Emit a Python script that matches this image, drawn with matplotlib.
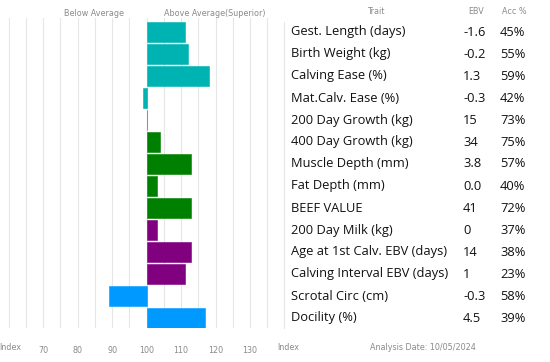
import matplotlib
matplotlib.use("Agg")
import matplotlib.pyplot as plt

# ----------------------------
# Data
# ----------------------------

traits = [
    "Gest. Length (days)", "Birth Weight (kg)", "Calving Ease (%)",
    "Mat.Calv. Ease (%)", "200 Day Growth (kg)", "400 Day Growth (kg)",
    "Muscle Depth (mm)", "Fat Depth (mm)", "BEEF VALUE", "200 Day Milk (kg)",
    "Age at 1st Calv. EBV (days)", "Calving Interval EBV (days)",
    "Scrotal Circ (cm)", "Docility (%)",
]
ebv = ["-1.6", "-0.2", "1.3", "-0.3", "15", "34", "3.8", "0.0", "41", "0",
       "14", "1", "-0.3", "4.5"]
acc = ["45%", "55%", "59%", "42%", "73%", "75%", "57%", "40%", "72%", "37%",
       "38%", "23%", "58%", "39%"]
index_vals = [111, 112, 118, 99, 100.2, 104, 113, 103, 113, 103, 113, 111, 89, 117]
groups = ["calving"] * 4 + ["growth"] * 5 + ["maternal"] * 3 + ["other"] * 2

tick_vals = [70, 80, 90, 100, 110, 120, 130]
analysis_date = "10/05/2024"

colours = {
    "calving": "#00B3B3",
    "growth": "#008000",
    "maternal": "#800080",
    "other": "#0099FF",
}

# ----------------------------
# Figure
# ----------------------------

W, H = 550, 362
fig = plt.figure(figsize=(W / 100, H / 100), dpi=100)

def fx(px):
    return px / W

def fy(py):
    return 1 - py / H

ax = fig.add_axes([0, fy(328), fx(276), fy(18) - fy(328)])

n = len(traits)
ys = list(range(n))
lefts = [min(v, 100) for v in index_vals]
widths = [abs(v - 100) for v in index_vals]
bar_cols = [colours[g] for g in groups]
ax.barh(ys, widths, left=lefts, height=0.9,
        color=bar_cols, edgecolor=bar_cols, linewidth=0.4, zorder=3)

ax.set_xlim(57.5, 137.5)
ax.set_ylim(13.45, -0.636)
ax.set_yticks([])

grid_x = list(range(60, 140, 5))
for gx in grid_x:
    ax.axvline(gx, color="#e6e6e6", lw=0.8, zorder=1)

ax.set_xticks(tick_vals)
ax.set_xticklabels([str(t) for t in tick_vals])
ax.tick_params(axis="x", length=0, pad=13, labelsize=5.8, labelcolor="#8a8a8a")
for s in ax.spines.values():
    s.set_visible(False)
ax.patch.set_alpha(0)

grey = "#8a8a8a"
small = dict(fontsize=5.8, color=grey, family="DejaVu Sans")

fig.text(fx(94), fy(13), "Below Average", ha="center", va="center", **small)
fig.text(fx(215), fy(13), "Above Average(Superior)", ha="center", va="center", **small)
fig.text(fx(-1), fy(348), "Index", ha="left", va="center", **small)
fig.text(fx(277), fy(348), "Index", ha="left", va="center", **small)
fig.text(fx(423), fy(348), "Analysis Date: " + analysis_date,
         ha="center", va="center", **small)

fig.text(fx(376), fy(12), "Trait", ha="center", va="center", **small)
fig.text(fx(476), fy(12), "EBV", ha="center", va="center", **small)
fig.text(fx(514), fy(12), "Acc %", ha="center", va="center", **small)

# separator line between chart and table
fig.add_artist(plt.Line2D([fx(284), fx(284)], [fy(22), fy(328)],
                          color="#e6e6e6", lw=0.8))

# ----------------------------
# Table
# ----------------------------

row_font = dict(fontsize=9.3, color="#111111", family="Open Sans", va="center")
for i in range(n):
    yy = fy(32 + 22 * i)
    fig.text(fx(291), yy, traits[i], ha="left", **row_font)
    fig.text(fx(463), yy, ebv[i], ha="left", **row_font)
    fig.text(fx(500), yy, acc[i], ha="left", **row_font)

fig.savefig("out.png", dpi=100)
